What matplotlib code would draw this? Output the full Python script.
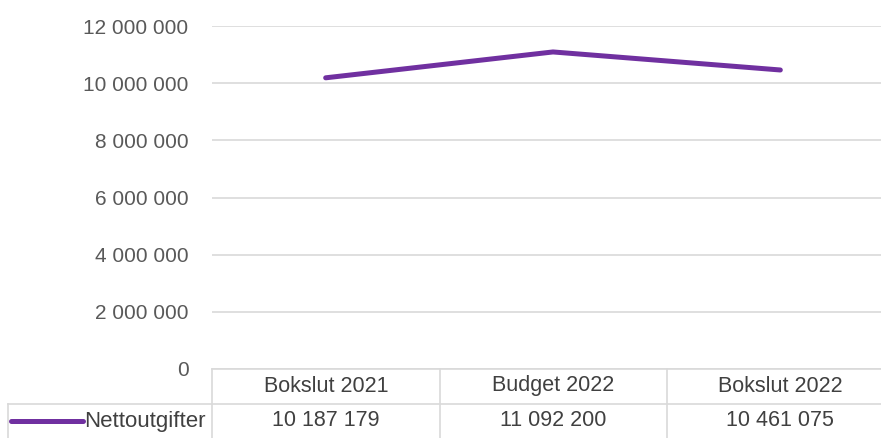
import numpy as np
import matplotlib.pyplot as plt
from matplotlib.ticker import FuncFormatter

categories = ["Bokslut 2021", "Budget 2022", "Bokslut 2022"]
series_name = "Nettoutgifter"
values = [10187179, 11092200, 10461075]

def fmt(v):
    return f"{int(v):,}".replace(",", " ")

plt.rcParams["font.family"] = ["Liberation Sans", "DejaVu Sans"]
purple = "#7030A0"
grid = "#D9D9D9"
txt = "#404040"

W, H = 881, 438
fig = plt.figure(figsize=(W / 100, H / 100), dpi=100)
# plot area runs a little past the right edge of the image, as in the reference
ax = fig.add_axes([212 / W, (H - 369) / H, (894 - 212) / W, (369 - 26) / H])

x = np.arange(len(categories))
ax.plot(x, values, color=purple, linewidth=3.6, solid_capstyle="round")

ax.set_xlim(-0.5, len(categories) - 0.5)
ax.set_ylim(0, 12000000)
ax.set_yticks(np.arange(0, 12000001, 2000000))
ax.yaxis.set_major_formatter(FuncFormatter(lambda v, p: fmt(v)))
ax.tick_params(axis="y", length=0, pad=17, labelsize=15, labelcolor="#595959")
ax.set_xticks([])
ax.grid(axis="y", color=grid, linewidth=1.2)
ax.set_axisbelow(True)
for s in ["top", "right", "left"]:
    ax.spines[s].set_visible(False)
ax.spines["bottom"].set_color(grid)
ax.spines["bottom"].set_linewidth(1.2)

# data table below the axis
def fx(px):
    return px / W

def fy(py):
    return 1 - py / H

lines = [
    ((212, 369), (212, 438)),
    ((440, 369), (440, 438)),
    ((667, 369), (667, 438)),
    ((8, 404), (881, 404)),
    ((8, 404), (8, 438)),
]
for (x0, y0), (x1, y1) in lines:
    fig.add_artist(plt.Line2D([fx(x0), fx(x1)], [fy(y0), fy(y1)], color=grid, linewidth=1.2))

col_centers = [326, 553, 780]
for cx, cat, val in zip(col_centers, categories, values):
    fig.text(fx(cx), fy(386), cat, ha="center", va="center", fontsize=15.5, color=txt)
    fig.text(fx(cx), fy(421), fmt(val), ha="center", va="center", fontsize=15.5, color=txt)

t = fig.text(fx(206), fy(421), series_name, ha="right", va="center", fontsize=16, color=txt)
fig.canvas.draw()
bb = t.get_window_extent()
fig.add_artist(plt.Line2D([fx(11), (bb.x0 - 2) / W], [fy(421), fy(421)], color=purple,
                          linewidth=3.6, solid_capstyle="round"))

plt.savefig("out.png", dpi=100)
